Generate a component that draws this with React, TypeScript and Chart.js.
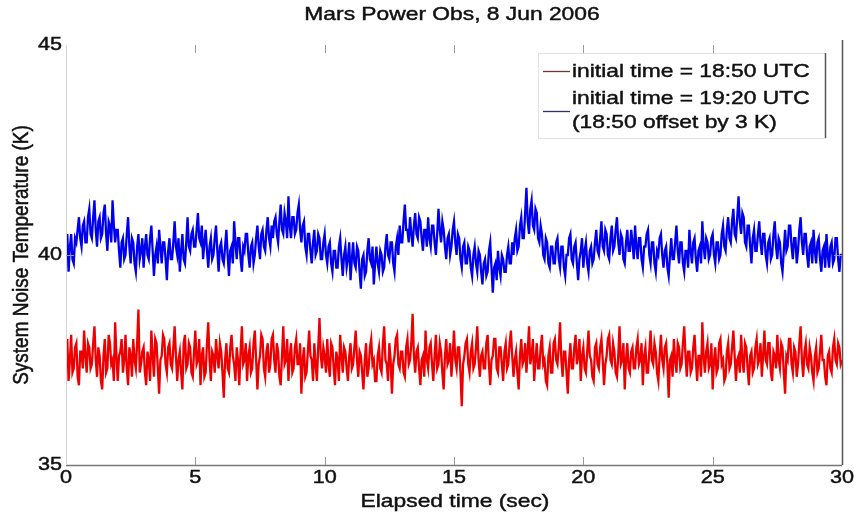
import React, { useEffect, useRef } from "react";
import { Chart, registerables } from "chart.js";

Chart.register(...registerables);

// ---- data (one row per second, 0.05 s sampling) ----
const SAMPLE_STEP_SEC = 0.05;

// initial time = 18:50 UTC
const redTempK1850 = [
  37.6,38.0, 37.0,37.5, 38.1,37.2, 37.3,37.8, 37.9,37.1, 36.9,37.7, 37.7,37.3, 38.2,37.6, 37.2,37.9, 37.8,37.3,
  37.4,37.9, 38.3,37.5, 37.1,37.8, 37.6,37.0, 36.8,37.6, 38.0,37.2, 37.3,38.1, 37.9,37.4, 37.5,37.0, 38.4,37.6,
  37.0,37.6, 37.7,38.0, 37.2,37.5, 38.1,37.3, 36.9,37.8, 37.6,37.1, 38.0,37.5, 37.3,37.9, 38.7,37.2, 37.4,37.7,
  37.8,37.2, 36.9,37.7, 37.5,37.0, 38.2,37.6, 37.1,38.0, 37.9,37.3, 36.7,37.5, 37.6,38.1, 38.0,37.4, 37.2,37.8,
  37.9,37.4, 37.3,37.8, 38.3,37.6, 37.0,37.5, 37.7,37.2, 36.8,37.9, 38.1,37.3, 37.4,37.9, 37.8,37.2, 37.1,37.7,
  38.2,37.4, 37.5,38.0, 36.9,37.6, 37.8,37.1, 37.2,37.9, 38.4,37.5, 37.0,37.7, 37.6,37.2, 38.0,37.6, 37.3,37.9,
  37.7,37.2, 36.6,37.5, 37.9,37.3, 37.2,37.8, 38.1,37.6, 37.4,37.0, 37.8,37.5, 36.9,37.7, 38.3,37.4, 37.5,37.9,
  37.0,37.6, 37.8,37.2, 37.3,37.9, 38.2,37.5, 36.8,37.4, 37.6,38.1, 38.0,37.3, 37.1,37.7, 37.9,37.2, 37.4,38.0,
  38.1,37.5, 37.2,37.9, 37.7,37.1, 36.9,37.6, 38.3,37.4, 37.5,38.0, 37.0,37.6, 37.9,37.2, 37.3,37.8, 38.0,37.4,
  37.4,37.9, 36.7,37.5, 37.8,37.1, 37.2,37.7, 38.2,37.6, 37.5,37.0, 37.9,37.4, 37.0,37.8, 38.5,37.6, 37.3,37.8,
  37.6,37.2, 38.0,37.4, 37.1,37.9, 37.8,37.3, 36.9,37.7, 37.5,37.0, 38.1,37.6, 37.2,37.8, 37.7,37.3, 37.0,37.6,
  37.9,37.3, 37.4,37.8, 38.2,37.5, 37.1,37.7, 37.6,37.2, 36.8,37.5, 37.9,37.1, 37.3,37.8, 38.0,37.4, 37.5,37.0,
  37.0,37.6, 37.8,37.3, 37.2,37.9, 38.3,37.5, 37.4,37.0, 37.9,37.5, 36.7,37.4, 37.6,38.0, 38.1,37.4, 37.3,37.7,
  37.7,37.2, 37.1,37.8, 38.0,37.4, 37.5,37.9, 38.6,37.6, 37.2,37.7, 37.8,37.3, 36.9,37.5, 37.6,37.1, 38.2,37.5,
  37.3,37.8, 37.9,37.4, 37.0,37.6, 38.1,37.3, 37.4,37.9, 37.7,37.2, 36.8,37.6, 38.0,37.4, 37.5,37.9, 37.1,37.6,
  38.2,37.5, 37.3,37.8, 37.8,37.2, 36.4,37.4, 37.6,37.9, 38.0,37.4, 37.2,37.7, 37.9,37.3, 37.4,37.8, 38.3,37.5,
  37.1,37.6, 37.7,37.3, 37.3,37.9, 38.1,37.4, 36.9,37.5, 37.6,38.0, 38.0,37.3, 37.2,37.8, 37.8,37.4, 37.0,37.7,
  37.9,37.3, 37.4,37.9, 38.2,37.6, 37.1,37.5, 37.7,37.2, 36.8,37.6, 38.0,37.4, 37.5,37.9, 37.2,37.7, 38.3,37.4,
  37.6,38.0, 37.0,37.5, 37.9,37.3, 37.3,37.8, 38.1,37.4, 37.5,37.0, 36.9,37.6, 37.8,37.2, 37.2,37.9, 38.0,37.5,
  37.4,37.8, 38.4,37.5, 37.1,37.7, 37.7,37.2, 36.7,37.5, 37.9,37.3, 37.3,37.8, 38.1,37.4, 37.6,38.0, 37.0,37.6,
  37.8,37.3, 37.2,37.7, 38.2,37.6, 37.5,37.1, 37.0,37.8, 37.9,37.4, 37.3,37.8, 38.0,37.5, 36.9,37.4, 37.6,38.0,
  38.1,37.5, 37.4,37.9, 37.7,37.2, 37.1,37.6, 38.3,37.4, 37.5,37.9, 36.8,37.5, 37.9,37.3, 37.2,37.7, 37.8,37.3,
  37.3,37.8, 38.0,37.4, 37.5,37.9, 36.9,37.6, 37.8,37.2, 37.2,37.7, 38.2,37.5, 37.4,37.9, 37.7,37.2, 37.0,37.6,
  38.1,37.5, 37.3,37.8, 37.9,37.4, 36.6,37.5, 37.6,37.1, 38.0,37.5, 37.2,37.9, 37.8,37.3, 37.4,37.9, 38.3,37.6,
  37.1,37.7, 37.7,37.2, 37.3,37.8, 38.1,37.5, 37.0,37.6, 37.6,37.1, 38.4,37.6, 37.2,37.7, 37.9,37.3, 37.4,37.9,
  36.8,37.5, 37.8,37.2, 37.3,37.9, 38.0,37.4, 37.5,37.0, 37.1,37.7, 37.9,37.3, 37.4,37.8, 38.2,37.6, 37.0,37.5,
  37.6,37.2, 38.1,37.5, 37.2,37.9, 37.8,37.3, 36.9,37.6, 37.7,37.2, 37.3,37.8, 38.0,37.4, 37.5,37.9, 37.1,37.6,
  38.2,37.5, 37.4,37.9, 37.9,37.2, 37.0,37.7, 37.6,37.3, 38.1,37.5, 37.3,37.9, 37.8,37.2, 36.7,37.6, 37.5,38.0,
  38.0,37.4, 37.2,37.8, 37.7,37.1, 37.4,37.9, 38.3,37.5, 37.1,37.7, 37.9,37.4, 37.3,37.8, 37.6,37.2, 37.0,37.6,
  37.8,37.2, 37.3,37.7, 38.1,37.5, 37.5,37.1, 36.9,37.6, 37.7,37.3, 37.2,37.8, 38.0,37.5, 37.4,37.9, 37.8,37.4,
  37.5,
];

// initial time = 19:20 UTC (18:50 offset by 3 K)
const blueTempK1920 = [
  40.1,40.5, 39.6,40.2, 40.5,39.9, 39.8,40.4, 40.3,40.6, 40.9,40.4, 40.2,40.7, 40.8,40.3, 40.3,40.9, 41.1,40.5,
  40.4,40.9, 41.3,40.6, 40.2,40.8, 40.9,40.4, 40.5,41.0, 41.2,40.5, 40.1,40.8, 40.7,40.3, 41.3,40.7, 40.3,40.6,
  40.6,40.1, 39.7,40.3, 40.4,39.9, 40.0,40.5, 40.9,40.2, 39.8,40.4, 40.3,39.8, 39.6,40.2, 40.5,39.9, 40.1,40.4,
  39.7,40.2, 40.5,40.0, 39.9,40.4, 40.7,40.1, 39.5,40.0, 40.2,39.8, 40.6,40.2, 39.8,40.3, 40.3,39.9, 39.4,40.1,
  40.4,39.9, 39.9,40.3, 40.8,40.2, 40.0,40.4, 39.6,40.1, 40.5,39.9, 39.8,40.3, 40.9,40.2, 40.1,40.5, 40.6,40.2,
  40.2,40.6, 41.0,40.4, 40.3,40.7, 39.9,40.3, 40.6,40.1, 39.7,40.2, 40.4,39.9, 40.0,40.4, 40.7,40.1, 39.6,40.2,
  40.3,39.9, 39.8,40.2, 40.6,40.0, 39.5,40.1, 40.2,39.8, 40.8,40.3, 39.9,40.4, 40.4,39.9, 39.6,40.2, 40.1,40.5,
  40.5,40.0, 39.7,40.2, 40.3,39.8, 40.0,40.4, 40.7,40.2, 39.9,40.5, 40.6,40.2, 40.1,40.6, 40.9,40.4, 40.2,40.7,
  40.4,40.8, 40.9,40.5, 40.3,40.8, 41.2,40.6, 40.5,41.0, 40.8,40.4, 41.4,40.7, 40.4,40.9, 40.9,40.5, 40.6,41.0,
  41.2,40.6, 40.3,40.7, 40.8,40.2, 40.0,40.5, 40.5,40.1, 39.8,40.3, 40.6,40.0, 40.1,40.5, 40.4,39.9, 39.9,40.3,
  40.5,40.0, 39.8,40.2, 40.3,39.8, 39.6,40.1, 40.1,39.7, 39.7,40.2, 40.4,39.9, 39.5,40.0, 40.2,39.7, 39.9,40.3,
  39.4,39.9, 40.3,39.8, 39.7,40.2, 40.1,39.6, 39.2,39.9, 40.0,39.5, 39.6,40.1, 40.4,39.9, 39.8,40.2, 39.3,39.8,
  40.2,39.8, 39.6,40.1, 40.0,39.6, 39.7,40.2, 40.5,40.0, 39.9,40.3, 40.3,39.8, 39.6,40.2, 40.4,40.0, 40.7,40.3,
  40.3,40.8, 41.2,40.6, 40.6,40.3, 40.9,40.5, 40.2,40.7, 41.0,40.5, 40.4,40.9, 40.8,40.4, 40.1,40.6, 40.6,40.2,
  40.9,40.4, 40.2,40.7, 40.7,40.3, 40.0,40.5, 41.1,40.6, 40.3,40.8, 40.6,40.2, 39.9,40.4, 40.5,40.0, 40.2,40.6,
  40.8,40.3, 40.0,40.5, 40.4,39.9, 39.7,40.2, 40.3,39.8, 39.8,40.2, 40.1,39.7, 39.5,40.0, 40.2,39.8, 39.6,40.1,
  40.0,39.6, 39.3,39.8, 39.9,39.5, 39.6,40.1, 40.3,39.7, 39.1,39.7, 39.8,39.4, 40.1,39.7, 39.5,40.0, 39.9,39.6,
  39.6,40.0, 40.2,39.8, 39.8,40.3, 40.0,40.4, 40.6,40.1, 40.2,40.7, 40.9,40.4, 40.4,41.0, 41.6,40.8, 40.5,41.1,
  41.3,40.7, 40.6,41.1, 41.0,40.4, 40.3,40.7, 40.5,40.0, 39.9,40.4, 40.3,39.8, 39.7,40.2, 40.2,39.8, 39.8,40.3,
  40.4,39.9, 39.7,40.2, 40.2,39.7, 39.5,40.0, 40.0,40.4, 40.5,39.9, 39.8,40.2, 40.3,39.8, 39.4,39.9, 40.1,40.4,
  39.7,40.1, 40.3,39.8, 39.6,40.1, 40.2,39.8, 39.9,40.3, 40.6,40.1, 40.0,40.4, 40.8,40.2, 40.1,40.6, 40.5,40.0,
  39.9,40.4, 40.7,40.1, 40.2,40.6, 40.9,40.3, 40.0,40.5, 40.4,39.9, 39.8,40.3, 40.6,40.1, 40.1,40.6, 40.3,39.9,
  40.7,40.2, 39.9,40.4, 40.4,39.9, 39.7,40.2, 40.2,40.5, 40.6,40.0, 39.8,40.3, 40.3,39.8, 39.6,40.1, 40.0,40.4,
  40.5,40.0, 39.7,40.1, 40.2,39.7, 39.5,40.0, 40.4,39.9, 39.9,40.3, 40.7,40.1, 39.8,40.3, 40.3,39.8, 39.6,40.1,
  40.1,39.7, 40.6,40.1, 39.8,40.3, 40.4,39.9, 39.6,40.1, 40.2,39.8, 40.8,40.2, 39.9,40.4, 40.3,39.9, 40.0,40.4,
  40.5,40.0, 39.8,40.3, 40.3,39.9, 40.0,40.5, 40.7,40.2, 40.1,40.6, 40.9,40.4, 40.3,40.8, 41.1,40.5, 40.4,40.9,
  41.4,40.8, 40.5,41.0, 40.9,40.3, 40.2,40.7, 40.7,40.2, 39.8,40.4, 40.6,40.1, 40.1,40.5, 40.8,40.3, 40.0,40.5,
  40.5,40.0, 39.8,40.3, 40.4,39.9, 40.0,40.5, 40.8,40.2, 39.9,40.4, 40.3,39.8, 39.6,40.1, 40.6,40.1, 40.2,40.7,
  40.7,40.2, 39.9,40.4, 40.4,39.8, 40.1,40.6, 40.9,40.3, 40.0,40.5, 40.5,40.0, 39.7,40.2, 40.3,39.8, 40.6,40.1,
  39.8,40.3, 40.4,39.9, 39.6,40.1, 40.2,39.7, 40.5,40.0, 39.7,40.2, 40.3,39.8, 39.9,40.4, 40.4,39.9, 39.6,40.0,
  40.0,
];

const xTickValues = [0, 5, 10, 15, 20, 25, 30];
const yTickValues = [35, 40, 45];

const titleText = "Mars Power Obs, 8 Jun 2006";
const xAxisTitle = "Elapsed time (sec)";
const yAxisTitle = "System Noise Temperature (K)";
const redLabel = ["initial time = 18:50 UTC"];
const blueLabel = ["initial time = 19:20 UTC", "(18:50 offset by 3 K)"];

// ---- styling ----
const FONT = "'Liberation Sans', Arial, Helvetica, sans-serif";
const STRETCH = 1.2; // reference image is horizontally stretched
const TEXT_COLOR = "#111";

function toPoints(vals: number[]) {
  return vals.map((y, i) => ({ x: Math.round(i * SAMPLE_STEP_SEC * 100) / 100, y }));
}

function drawText(
  ctx: CanvasRenderingContext2D,
  text: string,
  x: number,
  y: number,
  align: CanvasTextAlign,
  size: number,
  rotate = false
) {
  ctx.save();
  ctx.translate(x, y);
  ctx.scale(STRETCH, 1);
  if (rotate) ctx.rotate(-Math.PI / 2);
  ctx.font = `${size}px ${FONT}`;
  ctx.textAlign = align;
  ctx.textBaseline = "middle";
  ctx.fillStyle = TEXT_COLOR;
  ctx.strokeStyle = TEXT_COLOR;
  ctx.lineWidth = 0.45;
  ctx.fillText(text, 0, 0);
  ctx.strokeText(text, 0, 0);
  ctx.restore();
}

const matlabAxesPlugin = {
  id: "matlabAxes",
  afterDraw(chart: any) {
    const ctx: CanvasRenderingContext2D = chart.ctx;
    const ca = chart.chartArea;
    const xs = chart.scales.x;
    const ys = chart.scales.y;
    const TICK = 8;

    ctx.save();
    // box lines
    ctx.lineWidth = 1.5;
    ctx.strokeStyle = "#777";
    ctx.beginPath();
    ctx.moveTo(ca.left, ca.bottom + 0.5);
    ctx.lineTo(ca.right, ca.bottom + 0.5);
    ctx.stroke();
    ctx.strokeStyle = "#555";
    ctx.beginPath();
    ctx.moveTo(ca.right + 0.5, ca.top - 5);
    ctx.lineTo(ca.right + 0.5, ca.bottom);
    ctx.stroke();
    ctx.lineWidth = 1;
    ctx.strokeStyle = "#d4d4d4";
    ctx.beginPath();
    ctx.moveTo(ca.left + 0.5, ca.top);
    ctx.lineTo(ca.left + 0.5, ca.bottom);
    ctx.stroke();

    // inward tick marks
    ctx.strokeStyle = "#999";
    ctx.lineWidth = 1;
    xTickValues.forEach((v) => {
      const px = Math.round(xs.getPixelForValue(v)) + 0.5;
      if (v === xTickValues[0] || v === xTickValues[xTickValues.length - 1]) return;
      ctx.beginPath();
      ctx.moveTo(px, ca.bottom);
      ctx.lineTo(px, ca.bottom - TICK);
      ctx.moveTo(px, ca.top);
      ctx.lineTo(px, ca.top + TICK);
      ctx.stroke();
    });
    yTickValues.forEach((v) => {
      const py = Math.round(ys.getPixelForValue(v)) + 0.5;
      if (v === yTickValues[0] || v === yTickValues[yTickValues.length - 1]) return;
      ctx.beginPath();
      ctx.moveTo(ca.left, py);
      ctx.lineTo(ca.left + TICK, py);
      ctx.moveTo(ca.right, py);
      ctx.lineTo(ca.right - TICK, py);
      ctx.stroke();
    });

    // tick labels
    xTickValues.forEach((v) => {
      drawText(ctx, String(v), xs.getPixelForValue(v), ca.bottom + 13, "center", 18);
    });
    yTickValues.forEach((v) => {
      drawText(ctx, String(v), ca.left - 4, ys.getPixelForValue(v), "right", 18);
    });

    // titles
    drawText(ctx, titleText, (ca.left + ca.right) / 2 - 2, 15, "center", 19);
    drawText(ctx, xAxisTitle, (ca.left + ca.right) / 2 + 1, 502, "center", 19);
    drawText(ctx, yAxisTitle, 22, (ca.top + ca.bottom) / 2, "center", 19, true);

    // legend
    const lx = 538, ly = 53, lw = 287, lh = 85;
    ctx.lineWidth = 1;
    ctx.strokeStyle = "#e2e2e2";
    ctx.strokeRect(lx + 0.5, ly + 0.5, lw, lh);
    ctx.strokeStyle = "#555";
    ctx.lineWidth = 1.5;
    ctx.beginPath();
    ctx.moveTo(lx + lw + 0.5, ly);
    ctx.lineTo(lx + lw + 0.5, ly + lh);
    ctx.stroke();

    const ds = chart.data.datasets;
    const sample = (color: string, y: number) => {
      ctx.strokeStyle = color;
      ctx.lineWidth = 1.3;
      ctx.beginPath();
      ctx.moveTo(543, y + 0.5);
      ctx.lineTo(570, y + 0.5);
      ctx.stroke();
    };
    sample(ds[0].legendColor, 71);
    drawText(ctx, redLabel[0], 572, 72, "left", 19);
    sample(ds[1].legendColor, 111);
    drawText(ctx, blueLabel[0], 572, 99, "left", 19);
    drawText(ctx, blueLabel[1], 572, 123, "left", 19);

    ctx.restore();
  },
};

export default function App() {
  const canvasRef = useRef<HTMLCanvasElement | null>(null);

  useEffect(() => {
    document.body.style.margin = "0";
    const canvas = canvasRef.current;
    if (!canvas) return;
    const chart = new Chart(canvas, {
      type: "line",
      data: {
        datasets: [
          {
            label: redLabel.join(" "),
            data: toPoints(redTempK1850),
            borderColor: "rgb(238,0,0)",
            borderWidth: 2.3,
            pointRadius: 0,
            tension: 0,
            borderJoinStyle: "miter",
            legendColor: "#6e3535",
          } as any,
          {
            label: blueLabel.join(" "),
            data: toPoints(blueTempK1920),
            borderColor: "rgb(0,0,238)",
            borderWidth: 2.3,
            pointRadius: 0,
            tension: 0,
            borderJoinStyle: "miter",
            legendColor: "#30306e",
          } as any,
        ],
      },
      options: {
        animation: false,
        responsive: false,
        devicePixelRatio: 1,
        layout: { padding: { left: 66, right: 12, top: 45, bottom: 53 } },
        plugins: {
          legend: { display: false },
          title: { display: false },
          tooltip: { enabled: false },
        },
        scales: {
          x: { type: "linear", min: 0, max: 30, display: false },
          y: { type: "linear", min: 35, max: 45, display: false },
        },
      },
      plugins: [matlabAxesPlugin],
    });
    return () => chart.destroy();
  }, []);

  return (
    <div style={{ width: 854, height: 518, background: "#fff" }}>
      <canvas ref={canvasRef} width={854} height={518} style={{ width: 854, height: 518, display: "block" }} />
    </div>
  );
}
